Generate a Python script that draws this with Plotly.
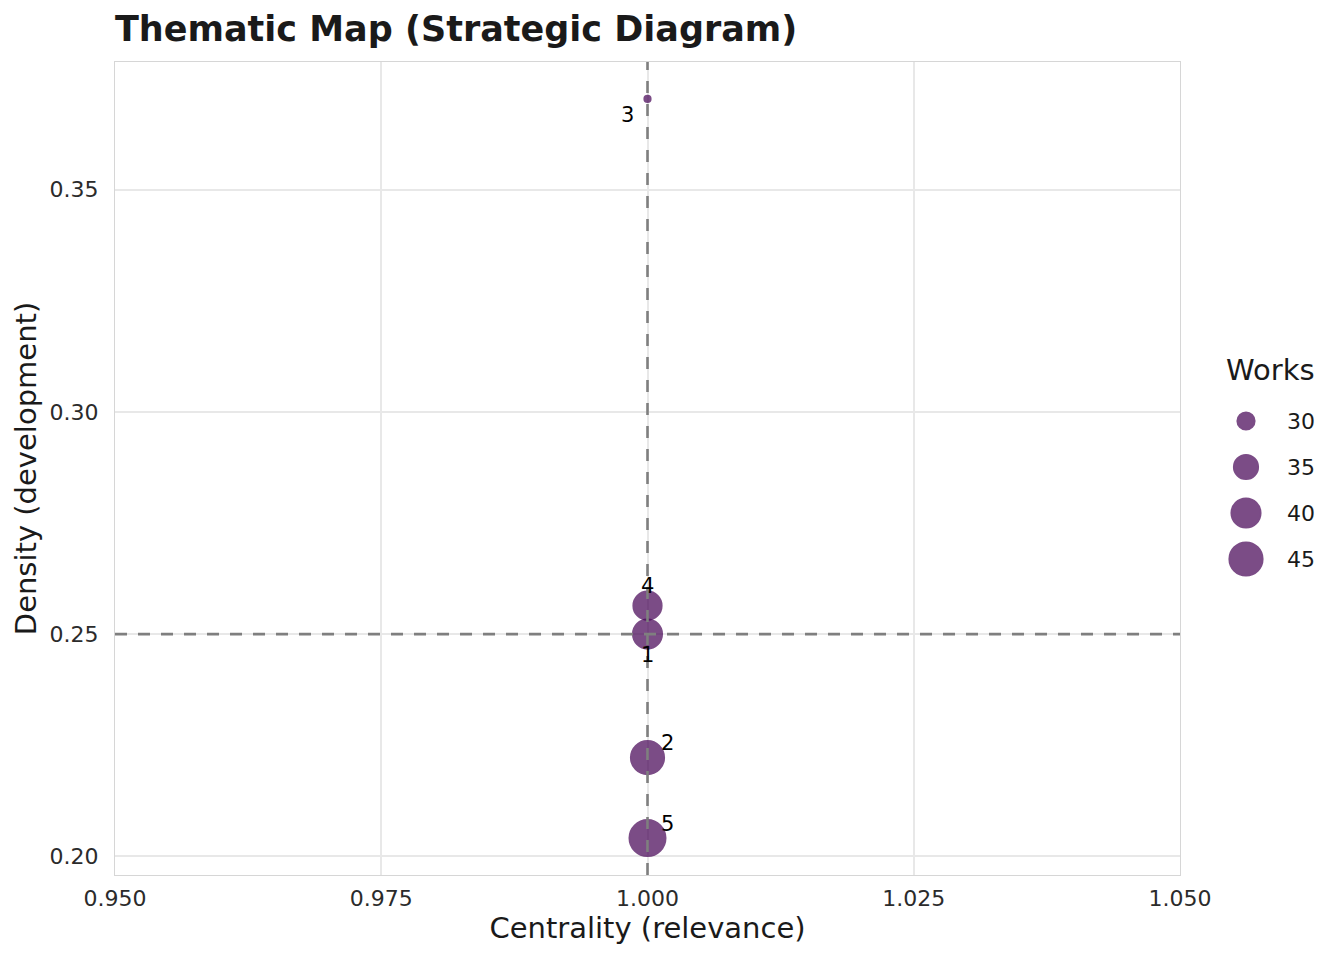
import numpy as np
import plotly.graph_objects as go

# ---- data ----
clusters = ["1", "2", "3", "4", "5"]
centrality = [1.0, 1.0, 1.0, 1.0, 1.0]
density = [0.25, 0.2222, 0.3704, 0.2564, 0.2041]
works = [40, 45, 27, 39, 49]
legend_works = [30, 35, 40, 45]
x_ticks = [0.95, 0.975, 1.0, 1.025, 1.05]
y_ticks = [0.20, 0.25, 0.30, 0.35]

# ---- style ----
FONT = "DejaVu Sans"
BASE = "#440154"
ALPHA = 0.7
LW = 1.8
SMIN, SMAX = 6.4, 36.2
W, H = 1344, 960
ML, MR, MT, MB = 115, 0, 62, 85
PLOT_RIGHT = 1180

vmin, vmax = min(works), max(works)


def size_of(v):
    t = np.clip((np.asarray(v, dtype=float) - vmin) / (vmax - vmin), 0, 1)
    return SMIN + (SMAX - SMIN) * np.sqrt(t)


paper_w = W - ML - MR
main_end = (PLOT_RIGHT - ML) / paper_w
leg_start = (1190 - ML) / paper_w

fig = go.Figure()

fig.add_trace(go.Scatter(
    x=centrality, y=density, mode="markers",
    marker=dict(size=size_of(works), color=BASE, opacity=ALPHA, line=dict(color=BASE, width=LW)),
    text=clusters, showlegend=False, hoverinfo="text",
))

# cluster labels (repel-like offsets)
offsets = {"1": (0, -21), "2": (20, 15), "3": (-20, -16), "4": (0, 20), "5": (20, 14)}
for c, xv, yv in zip(clusters, centrality, density):
    dx, dy = offsets[c]
    fig.add_annotation(x=xv, y=yv, xref="x", yref="y", text=c, showarrow=False,
                       xshift=dx, yshift=dy, font=dict(family=FONT, size=21, color="#000000"))

# reference lines
DASH = dict(color="#7F7F7F", width=2.6, dash="12px,11px")
fig.add_shape(type="line", xref="x", yref="y", x0=1.0, x1=1.0, y0=0.1958, y1=0.3787,
              line=DASH, layer="above")
fig.add_shape(type="line", xref="x", yref="y", x0=0.95, x1=1.05, y0=0.25, y1=0.25,
              line=DASH, layer="above")

# manual size legend (pixel-unit axes)
leg_x = 1246
leg_y0, leg_dy = 421, 46
leg_ys = [leg_y0 + i * leg_dy for i in range(len(legend_works))]
fig.add_trace(go.Scatter(
    x=[leg_x] * len(legend_works), y=leg_ys, mode="markers", xaxis="x2", yaxis="y2",
    marker=dict(size=size_of(legend_works), color=BASE, opacity=ALPHA, line=dict(color=BASE, width=LW)),
    showlegend=False, hoverinfo="skip",
))
for v, yy in zip(legend_works, leg_ys):
    fig.add_annotation(x=1285, y=yy, xref="x2", yref="y2", text=str(v), showarrow=False,
                       xanchor="left", yanchor="middle",
                       font=dict(family=FONT, size=22, color="#1A1A1A"))
fig.add_annotation(x=1224, y=370, xref="x2", yref="y2", text="Works", showarrow=False,
                   xanchor="left", yanchor="middle",
                   font=dict(family=FONT, size=29, color="#1A1A1A"))

fig.update_layout(
    width=W, height=H,
    margin=dict(l=ML, r=MR, t=MT, b=MB, autoexpand=False),
    paper_bgcolor="white", plot_bgcolor="white",
    font=dict(family=FONT, color="#1A1A1A"),
    title=dict(text="<b>Thematic Map (Strategic Diagram)</b>", x=0, xref="paper", xanchor="left",
               y=1 - 29 / H, yref="container", yanchor="middle",
               font=dict(family=FONT, size=35, color="#1A1A1A")),
    xaxis=dict(domain=[0, main_end], range=[0.95, 1.05], tickvals=x_ticks, automargin=False,
               ticktext=[f"{v:.3f}" for v in x_ticks], showgrid=True, gridcolor="#E8E8E8",
               gridwidth=1.5, zeroline=False, showline=True, linecolor="#D6D6D6", linewidth=1,
               mirror=True, ticks="", ticklabelstandoff=4,
               tickfont=dict(family=FONT, size=22, color="#2B2B2B"),
               title=dict(text="Centrality (relevance)", font=dict(family=FONT, size=29, color="#1A1A1A"),
                          standoff=7)),
    yaxis=dict(range=[0.1958, 0.3787], tickvals=y_ticks, ticktext=[f"{v:.2f}" for v in y_ticks],
               automargin=False, showgrid=True, gridcolor="#E8E8E8", gridwidth=1.5, zeroline=False,
               showline=True, linecolor="#D6D6D6", linewidth=1, mirror=True, ticks="",
               ticklabelstandoff=11,
               tickfont=dict(family=FONT, size=22, color="#2B2B2B"),
               title=dict(text="Density (development)", font=dict(family=FONT, size=29, color="#1A1A1A"),
                          standoff=4)),
    xaxis2=dict(domain=[leg_start, 1], range=[1190, W], visible=False, fixedrange=True),
    yaxis2=dict(domain=[0, 1], range=[H - MB, MT], visible=False, fixedrange=True, anchor="x2"),
)

fig.write_html("out.html")
